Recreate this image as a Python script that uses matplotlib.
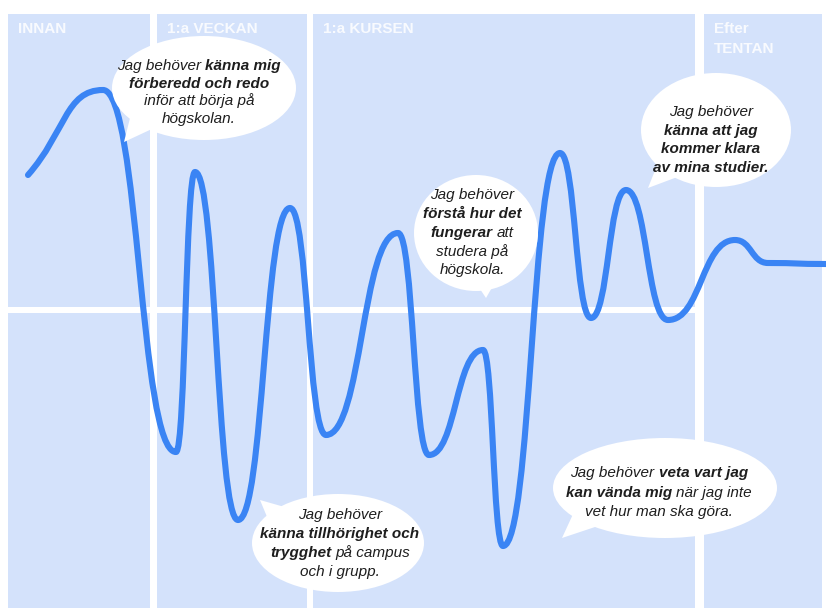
import matplotlib
matplotlib.use('Agg')
import matplotlib.pyplot as plt
from matplotlib.patches import Ellipse, Polygon, Rectangle, PathPatch
from matplotlib.path import Path

W, H = 826, 608

# phases along the top (pixel columns of each panel)
phase_names = ['INNAN', '1:a VECKAN', '1:a KURSEN', 'Efter\nTENTAN']
phase_left = [8, 157, 313, 704]
phase_right = [150, 307, 695, 822]

# the feeling curve: start, then each peak / trough (y grows downwards)
curve_x = [28, 103, 176, 195, 238, 290, 326, 398, 429, 483, 503, 560, 591, 626, 668, 735, 768, 826]
curve_y = [175, 90, 452, 172, 520, 208, 435, 233, 455, 350, 546, 153, 318, 190, 320, 240, 263, 264]

# speech bubbles: lines of (text, bold) pieces
bubble_lines = [
    [[('Jag behöver', False), ('känna mig', True)],
     [('förberedd och redo', True)],
     [('inför att börja på', False)],
     [('högskolan.', False)]],
    [[('Jag behöver', False)],
     [('förstå hur det', True)],
     [('fungerar', True), ('att', False)],
     [('studera på', False)],
     [('högskola.', False)]],
    [[('Jag behöver', False)],
     [('känna att jag', True)],
     [('kommer klara', True)],
     [('av mina studier.', True)]],
    [[('Jag behöver', False)],
     [('känna tillhörighet och', True)],
     [('trygghet', True), ('på campus', False)],
     [('och i grupp.', False)]],
    [[('Jag behöver', False), ('veta vart jag', True)],
     [('kan vända mig', True), ('när jag inte', False)],
     [('vet hur man ska göra.', False)]],
]
bubble_center = [(204, 88), (476, 233), (716, 130), (338, 543), (665, 488)]
bubble_size = [(184, 104), (124, 116), (150, 114), (172, 98), (224, 100)]
text_center_x = [199, 472, 711, 340, 659]
text_first_y = [66, 195, 112, 515, 473]
line_step = [17.5, 18.8, 18.7, 19, 19.5]
# tails: (base a, base b, tip)
bubble_tail = [
    [(132, 110), (154, 128), (124, 142)],
    [(478, 286), (494, 284), (486, 298)],
    [(660, 158), (680, 176), (648, 188)],
    [(270, 524), (288, 508), (260, 500)],
    [(574, 512), (598, 526), (562, 538)],
]

panel_color = '#d4e2fb'
line_color = '#3a84f4'
text_color = '#1e1e1e'
fs = 11

fig = plt.figure(figsize=(W / 100, H / 100), dpi=100)
ax = fig.add_axes([0, 0, 1, 1])
ax.set_xlim(0, W)
ax.set_ylim(H, 0)
ax.axis('off')

# panels
for l, r in zip(phase_left, phase_right):
    ax.add_patch(Rectangle((l, 14), r - l, H - 14, facecolor=panel_color, edgecolor='none', zorder=1))
ax.add_patch(Rectangle((phase_left[0], 307), phase_right[2] - phase_left[0], 6,
                       facecolor='white', edgecolor='none', zorder=1.5))

for name, l in zip(phase_names, phase_left):
    for j, part in enumerate(name.split('\n')):
        ax.text(l + 10, 33 + 20 * j, part, color='white', alpha=0.85, fontsize=11, fontweight='bold',
                family='Liberation Sans', va='baseline', ha='left', zorder=2)

# curve built from peaks/troughs with horizontal tangents
k = 0.5
verts = [(curve_x[0], curve_y[0])]
codes = [Path.MOVETO]
for i in range(len(curve_x) - 1):
    x0, y0, x1, y1 = curve_x[i], curve_y[i], curve_x[i + 1], curve_y[i + 1]
    dx = x1 - x0
    if i == 0:
        c1 = (x0 + k * dx, y0 + k * (y1 - y0))
    else:
        c1 = (x0 + k * dx, y0)
    c2 = (x1 - k * dx, y1)
    verts += [c1, c2, (x1, y1)]
    codes += [Path.CURVE4] * 3
ax.add_patch(PathPatch(Path(verts, codes), facecolor='none', edgecolor=line_color,
                       lw=4.4, capstyle='round', joinstyle='round', zorder=3))

# bubbles
for c, s, tail in zip(bubble_center, bubble_size, bubble_tail):
    ax.add_patch(Ellipse(c, s[0], s[1], facecolor='white', edgecolor='none', zorder=4))
    ax.add_patch(Polygon(tail, closed=True, facecolor='white', edgecolor='none', zorder=4))

renderer = fig.canvas.get_renderer()
probe = ax.text(0, 0, 'a a', fontsize=fs, style='italic', family='Liberation Sans')
w2 = probe.get_window_extent(renderer).width
probe.set_text('aa')
space_w = w2 - probe.get_window_extent(renderer).width
probe.remove()

for lines, cx, y0, step in zip(bubble_lines, text_center_x, text_first_y, line_step):
    for j, pieces in enumerate(lines):
        y = y0 + j * step
        objs = []
        for txt, bold in pieces:
            t = ax.text(0, y, txt, fontsize=fs, style='italic', family='Liberation Sans',
                        fontweight='bold' if bold else 'normal', color=text_color,
                        ha='left', va='center', zorder=5)
            objs.append(t)
        widths = [t.get_window_extent(renderer).width for t in objs]
        total = sum(widths) + space_w * (len(objs) - 1)
        x = cx - total / 2
        for t, w in zip(objs, widths):
            t.set_x(x)
            x += w + space_w

fig.savefig('out.png', dpi=100, facecolor='white')
